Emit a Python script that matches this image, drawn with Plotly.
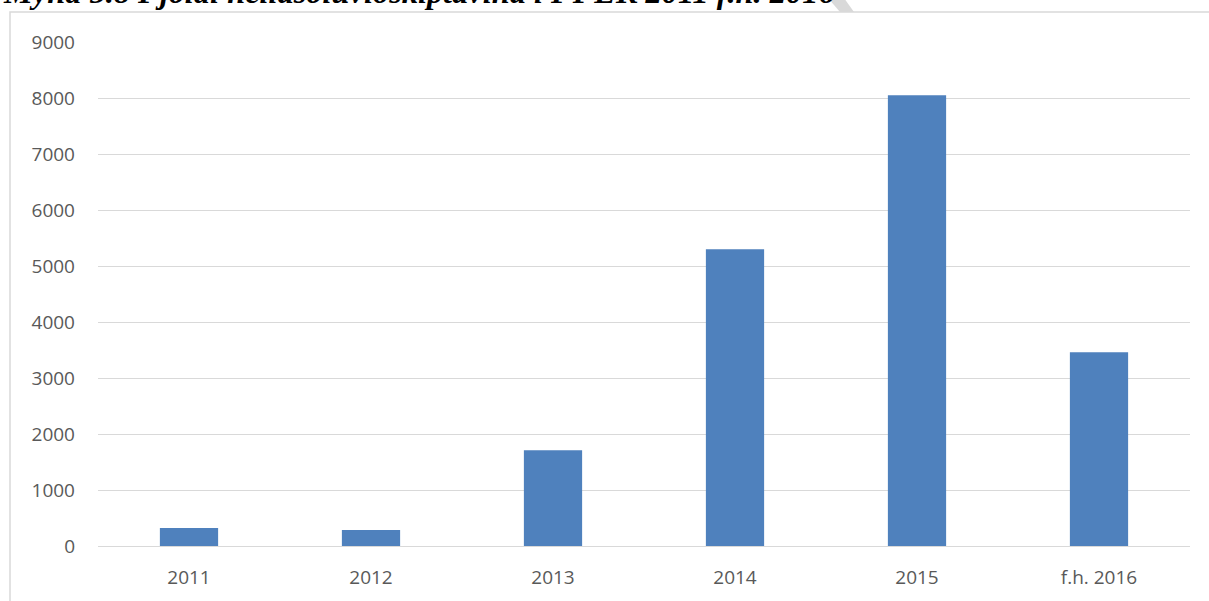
import plotly.graph_objects as go

categories = ["2011", "2012", "2013", "2014", "2015", "f.h. 2016"]
values = [320, 285, 1710, 5300, 8050, 3460]
y_ticks = [0, 1000, 2000, 3000, 4000, 5000, 6000, 7000, 8000, 9000]
title_text = "Mynd 5.8 Fjöldi hellasöluviðskiptavina í FFEK 2011 f.h. 2016"

W, H = 1209, 601
L, R, T, B = 98, 19, 42, 55
pw, ph = W - L - R, H - T - B

def px(x):
    return (x - L) / pw

def py(y):
    return (H - B - y) / ph

fig = go.Figure(go.Bar(
    x=categories, y=values, marker=dict(color="#4f81bd", line=dict(width=0)),
    width=0.32,
))

fig.update_layout(
    width=W, height=H,
    margin=dict(l=L, r=R, t=T, b=B, pad=0),
    paper_bgcolor="white", plot_bgcolor="white",
    showlegend=False,
    font=dict(family="Open Sans", size=19, color="#595959"),
    xaxis=dict(showgrid=False, showline=False, zeroline=False, ticks="",
               ticklabelstandoff=18, tickfont=dict(size=19, color="#595959")),
    yaxis=dict(range=[0, 9000], tickvals=y_ticks, showgrid=True, gridcolor="#d9d9d9",
               gridwidth=1, zeroline=True, zerolinecolor="#d9d9d9", zerolinewidth=1,
               showline=False, ticks="", ticklabelstandoff=22,
               tickfont=dict(size=19, color="#595959")),
    shapes=[
        dict(type="rect", xref="paper", yref="paper",
             x0=px(10), x1=px(1260), y0=py(650), y1=py(12),
             line=dict(color="#d9d9d9", width=1.5), fillcolor="rgba(0,0,0,0)", layer="below"),
        dict(type="path", xref="paper", yref="paper",
             path=f"M {px(828)} {py(-2)} L {px(844)} {py(-2)} L {px(854)} {py(12)} L {px(840)} {py(12)} Z",
             line=dict(width=0), fillcolor="#d9d9d9", layer="below"),
    ],
    annotations=[
        dict(text=f"<b><i>{title_text}</i></b>", xref="paper", yref="paper",
             x=px(1), y=py(12), xanchor="left", yanchor="bottom", showarrow=False,
             font=dict(family="Liberation Serif", size=32.4, color="black")),
    ],
)

fig.write_html("out.html", config={"displayModeBar": False},
               post_script="document.body.style.margin='0';document.body.style.padding='0';")
